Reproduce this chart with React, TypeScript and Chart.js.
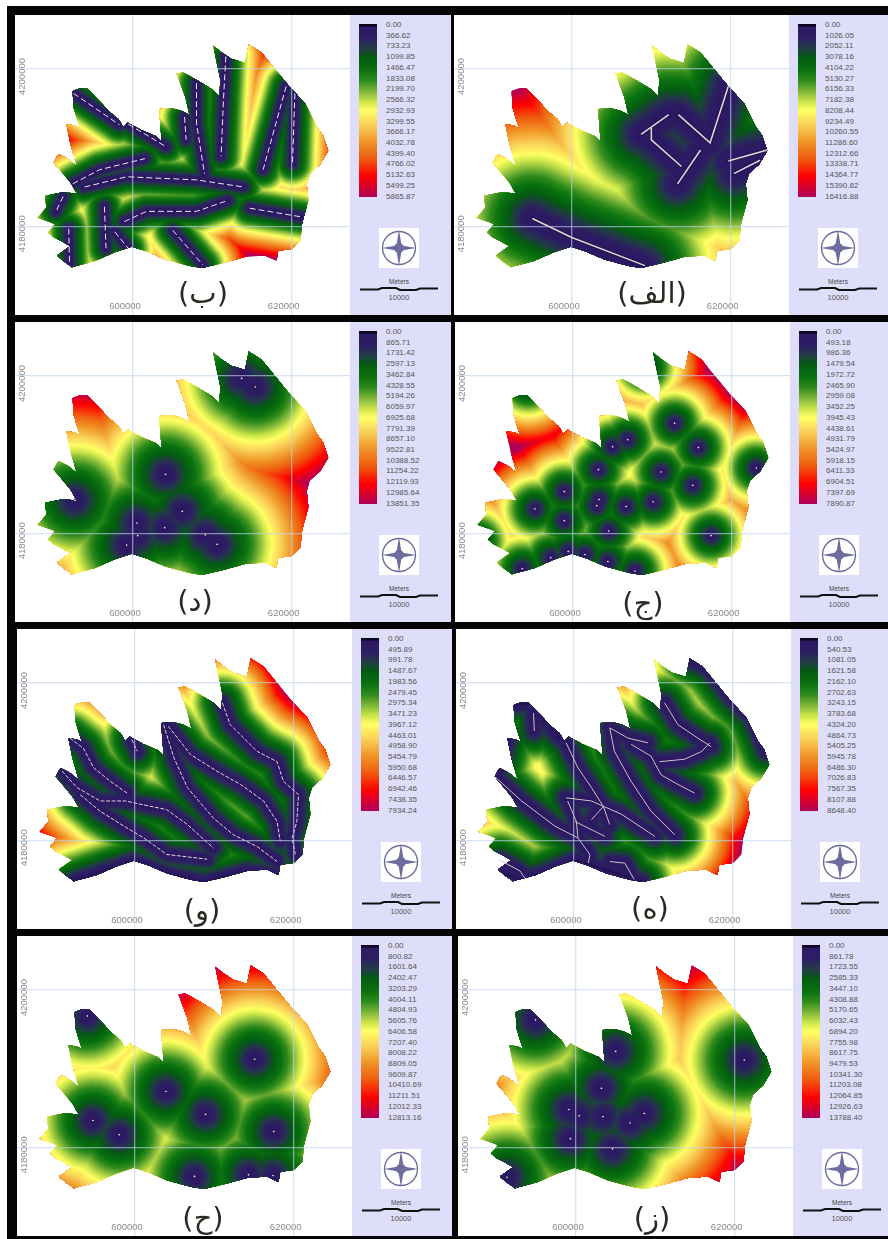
import React, { useEffect, useRef } from "react";
import { Chart, registerables } from "chart.js";

Chart.register(...registerables);

type P = [number, number];

// ---------- shared map data (kilometres, UTM easting / northing) ----------
const boundary: P[] = [
  [592.4,4197.2],[593.4,4197.6],[594.3,4197.5],[595.4,4196.3],[596.2,4195.5],[596.9,4194.7],[598.2,4193.6],[598.8,4192.6],[599.3,4193.2],
  [601.1,4192.2],[602.8,4191.5],[603.6,4190.8],[603.3,4194.9],[604.9,4195.0],[606.1,4194.7],[607.1,4194.2],[606.6,4196.4],
  [605.5,4199.4],[606.3,4199.6],[608.2,4198.5],[609.9,4197.5],[610.9,4196.5],[611.0,4198.7],[610.1,4203.0],[611.2,4202.1],
  [612.4,4201.3],[614.1,4200.8],[614.6,4203.1],[616.2,4202.1],[617.9,4200.0],[619.6,4197.9],[621.7,4195.6],[623.2,4192.6],
  [624.0,4191.5],[624.6,4189.6],[623.6,4187.9],[622.3,4186.7],[621.9,4185.4],[622.1,4183.3],[621.3,4180.3],[621.1,4178.2],
  [620.0,4177.1],[618.3,4176.9],[618.1,4175.6],[616.6,4176.3],[614.1,4176.1],[611.6,4175.4],[608.7,4174.7],[607.0,4175.0],
  [604.0,4175.8],[601.5,4176.9],[599.8,4177.4],[597.7,4176.7],[595.2,4175.6],[592.3,4174.8],[591.2,4175.6],[590.4,4176.3],
  [592.1,4177.5],[590.0,4178.6],[589.3,4179.2],[590.2,4180.3],[588.0,4181.1],[589.1,4182.4],[588.9,4183.9],[591.0,4184.3],
  [592.9,4184.2],[592.1,4185.6],[590.0,4188.1],[590.6,4189.2],[591.8,4188.6],[592.9,4187.7],[592.1,4190.5],[591.6,4193.0],
  [592.8,4192.8],[593.3,4192.5],[592.5,4195.1],
];

const xTicks = [600000, 620000];
const yTicks = [4180000, 4200000];

// ---------- legend labels ----------
const legendB = ["0.00","366.62","733.23","1099.85","1466.47","1833.08","2199.70","2566.32","2932.93","3299.55","3666.17","4032.78","4399.40","4766.02","5132.63","5499.25","5865.87"];
const legendAlef = ["0.00","1026.05","2052.11","3078.16","4104.22","5130.27","6156.33","7182.38","8208.44","9234.49","10260.55","11286.60","12312.66","13338.71","14364.77","15390.82","16416.88"];
const legendDal = ["0.00","865.71","1731.42","2597.13","3462.84","4328.55","5194.26","6059.97","6925.68","7791.39","8657.10","9522.81","10388.52","11254.22","12119.93","12985.64","13851.35"];
const legendJim = ["0.00","493.18","986.36","1479.54","1972.72","2465.90","2959.08","3452.25","3945.43","4438.61","4931.79","5424.97","5918.15","6411.33","6904.51","7397.69","7890.87"];
const legendVav = ["0.00","495.89","991.78","1487.67","1983.56","2479.45","2975.34","3471.23","3967.12","4463.01","4958.90","5454.79","5950.68","6446.57","6942.46","7438.35","7934.24"];
const legendHe = ["0.00","540.53","1081.05","1621.58","2162.10","2702.63","3243.15","3783.68","4324.20","4864.73","5405.25","5945.78","6486.30","7026.83","7567.35","8107.88","8648.40"];
const legendHa = ["0.00","800.82","1601.64","2402.47","3203.29","4004.11","4804.93","5605.76","6406.58","7207.40","8008.22","8809.05","9609.87","10410.69","11211.51","12012.33","12813.16"];
const legendZe = ["0.00","861.78","1723.55","2585.33","3447.10","4308.88","5170.65","6032.43","6894.20","7755.98","8617.75","9479.53","10341.30","11203.08","12064.85","12926.63","13788.40"];

// ---------- feature layers ----------
const linesB: P[][] = [
  [[592.5,4196.9],[598.3,4192.9]],
  [[599.4,4193.0],[604.2,4190.1]],
  [[592.4,4185.4],[595.8,4187.2],[601.5,4188.6]],
  [[593.9,4185.0],[599.2,4186.3],[608.0,4185.9],[613.9,4185.0]],
  [[608.0,4198.2],[608.0,4193.1],[609.0,4186.7]],
  [[606.5,4193.9],[606.7,4191.0]],
  [[611.7,4201.6],[611.4,4196.1],[611.1,4188.9]],
  [[619.3,4197.8],[616.4,4187.2]],
  [[620.4,4196.9],[620.1,4188.0]],
  [[591.2,4183.8],[590.3,4181.9]],
  [[598.9,4180.6],[601.7,4181.9],[608.0,4181.9],[612.0,4183.3]],
  [[614.7,4182.3],[621.2,4181.2]],
  [[596.4,4182.5],[596.6,4177.2]],
  [[591.9,4179.7],[592.0,4175.3]],
  [[597.7,4179.3],[599.4,4177.2]],
  [[605.0,4179.5],[608.8,4175.1]],
];
const linesAlef: P[][] = [
  [[595.0,4181.0],[599.9,4178.6],[609.2,4175.0]],
  [[608.7,4191.7],[612.2,4194.2]],
  [[610.0,4192.5],[610.0,4191.0],[613.8,4187.6]],
  [[613.4,4194.2],[617.4,4190.6],[619.7,4197.8]],
  [[613.3,4185.4],[616.2,4189.7]],
  [[619.7,4188.3],[624.6,4189.7]],
  [[620.4,4186.7],[623.7,4188.4]],
];
const pointsDal: P[] = [
  [613.7,4199.7],[615.4,4198.6],[604.1,4187.5],[592.7,4184.2],[606.2,4182.8],[600.5,4181.3],
  [600.6,4179.7],[599.2,4178.5],[604.0,4180.7],[609.1,4179.8],[610.6,4178.6],
];
const pointsJim: P[] = [
  [612.8,4194.0],[606.9,4191.9],[605.0,4191.0],[615.8,4190.9],[603.2,4188.1],[611.1,4187.8],[623.1,4188.3],[615.1,4186.1],
  [598.9,4185.3],[603.3,4184.3],[603.0,4183.5],[606.7,4183.4],[610.1,4184.0],[595.2,4183.1],[598.9,4181.6],[604.5,4180.3],
  [617.4,4179.7],[599.4,4177.7],[601.5,4177.3],[597.2,4176.9],[604.4,4176.4],[593.6,4175.5],[607.8,4175.2],
];
const edgeJim: P[][] = [
  [[594.3,4198.9],[594.4,4198.9]],
  [[609.0,4201.2],[609.1,4201.2]],
  [[587.8,4179.0],[587.9,4179.0]],
];
const linesVav: P[][] = [
  [[591.8,4193.0],[593.5,4191.7],[594.8,4189.2],[596.9,4187.5],[599.0,4186.0]],
  [[590.8,4188.8],[592.7,4186.7],[595.6,4185.0],[598.8,4185.0],[601.1,4184.5],[604.0,4183.9],[606.6,4182.0],[609.9,4179.0]],
  [[593.1,4185.8],[595.6,4183.7],[598.6,4181.8],[601.1,4180.3],[604.0,4178.2],[609.1,4177.6]],
  [[603.6,4194.7],[604.9,4190.5],[606.6,4186.7],[609.9,4182.8],[612.4,4180.7],[615.4,4179.2],[617.9,4177.3]],
  [[604.2,4194.5],[607.0,4190.9],[610.3,4188.8],[613.3,4187.1],[616.2,4185.0],[617.9,4182.4],[618.3,4179.9]],
  [[611.0,4197.5],[612.0,4194.7],[615.4,4191.3],[617.9,4190.0],[618.7,4187.5],[620.6,4185.8],[620.4,4182.4],[619.8,4180.3],[620.2,4178.2]],
  [[599.6,4192.8],[600.3,4191.3]],
];
const edgeVav: P[][] = [
  [[592.1,4174.8],[597.7,4176.7],[599.8,4177.4],[604.0,4175.8],[608.7,4174.7],[614.1,4176.1],[618.1,4175.6]],
];
const linesHe: P[][] = [
  [[594.9,4196.2],[595.0,4193.9]],
  [[590.0,4188.1],[593.4,4185.0],[597.6,4181.8],[600.5,4180.3],[602.0,4178.2],[601.8,4177.1]],
  [[599.0,4192.4],[600.5,4189.2],[602.2,4186.7],[603.7,4184.3],[604.5,4182.0]],
  [[599.0,4185.4],[602.2,4185.0],[606.0,4183.3],[610.2,4180.5]],
  [[603.7,4184.3],[602.2,4182.6]],
  [[599.2,4185.0],[600.3,4182.4],[600.5,4180.3]],
  [[604.5,4194.3],[605.1,4191.3],[607.2,4187.5],[609.7,4183.7],[612.7,4180.7]],
  [[604.5,4194.3],[606.8,4193.0],[609.3,4192.4]],
  [[607.2,4192.2],[609.7,4190.7],[611.0,4188.3],[613.1,4187.1],[615.2,4186.0]],
  [[610.8,4190.0],[613.9,4190.3],[616.1,4191.3],[617.1,4192.4]],
  [[611.4,4197.5],[613.1,4194.7],[615.6,4193.0],[617.3,4191.9]],
  [[600.1,4182.4],[603.9,4180.5]],
  [[590.6,4177.5],[593.2,4176.1],[593.8,4175.2]],
  [[604.5,4177.3],[606.4,4177.1],[607.6,4175.0]],
];
const edgeHe: P[][] = [
  [[614.6,4203.0],[616.9,4201.9],[619.8,4198.1],[622.4,4195.6],[624.2,4191.3]],
  [[592.5,4197.2],[594.6,4197.5],[598.2,4193.0]],
  [[591.7,4193.0],[590.6,4189.0]],
  [[590.6,4176.1],[592.9,4175.0],[596.3,4175.8],[600.1,4177.5],[608.5,4174.8]],
];
const pointsHa: P[] = [
  [594.0,4196.7],[615.1,4191.2],[603.9,4187.1],[594.7,4183.4],[608.9,4184.2],[598.0,4181.6],
  [617.5,4182.0],[607.5,4176.3],[614.3,4176.5],[617.4,4176.4],
];
const pointsZe: P[] = [
  [594.9,4196.2],[605.0,4192.2],[621.2,4191.1],[603.2,4187.5],[599.1,4184.8],[600.4,4184.0],
  [603.4,4183.9],[606.8,4183.1],[608.6,4184.3],[599.3,4181.1],[604.6,4179.8],[591.3,4176.2],
];

// ---------- colour ramp ----------
const rampStops: [number, number, number, number][] = [
  [0, 24, 12, 50], [0.02, 45, 25, 100], [0.08, 45, 30, 100], [0.14, 35, 60, 70], [0.19, 5, 90, 20], [0.27, 10, 115, 15],
  [0.33, 50, 140, 30], [0.4, 140, 190, 60], [0.45, 205, 230, 75], [0.5, 255, 255, 100], [0.58, 250, 210, 90], [0.68, 240, 150, 40],
  [0.78, 240, 90, 15], [0.88, 255, 0, 0], [1, 175, 0, 90],
];
function ramp(t: number): string {
  const v = Math.max(0, Math.min(1, t));
  for (let i = 1; i < rampStops.length; i++) {
    const a = rampStops[i - 1], b = rampStops[i];
    if (v <= b[0]) {
      const f = (v - a[0]) / (b[0] - a[0]);
      return `rgb(${a[1] + (b[1] - a[1]) * f},${a[2] + (b[2] - a[2]) * f},${a[3] + (b[3] - a[3]) * f})`;
    }
  }
  return "rgb(175,0,90)";
}
const rampCss = `linear-gradient(to bottom, #0c0620 0%, #0c0620 1%, ${rampStops.slice(1).map((s) => `rgb(${s[1]},${s[2]},${s[3]}) ${s[0] * 100}%`).join(",")})`;

// ---------- layout ----------
const PLOT_W = 335, PLOT_H = 300, LEFT = 118, TOP = 54;
const xPerPx = 20000 / 158.7, yPerPx = 20000 / 157.3;
const xMin = 600000 - LEFT * xPerPx, xMax = 600000 + (PLOT_W - LEFT) * xPerPx;
const yMax = 4200000 + TOP * yPerPx, yMin = 4200000 - (PLOT_H - TOP) * yPerPx;

interface Panel {
  caption: string; legend: string[]; lines?: P[][]; edge?: P[][]; points?: P[];
  gx: number; gy: number; right: number; cx: number; cy: number;
  lineColor?: string; lineWidth?: number; dash?: number[];
}
const panels: Panel[] = [
  { caption: "(ب)", legend: legendB, lines: linesB, gx: 133, gy: 69, right: 451, cx: 203, cy: 293, lineColor: "#efe8f5", lineWidth: 1, dash: [6, 3] },
  { caption: "(الف)", legend: legendAlef, lines: linesAlef, gx: 572, gy: 69, right: 888, cx: 652, cy: 293, lineColor: "#ddd8d8", lineWidth: 1.6 },
  { caption: "(د)", legend: legendDal, points: pointsDal, gx: 133, gy: 376, right: 451, cx: 195, cy: 601 },
  { caption: "(ج)", legend: legendJim, points: pointsJim, edge: edgeJim, gx: 573, gy: 376, right: 888, cx: 643, cy: 603 },
  { caption: "(و)", legend: legendVav, lines: linesVav, edge: edgeVav, gx: 135, gy: 683, right: 452, cx: 202, cy: 910, lineColor: "#e2d8e8", lineWidth: 1, dash: [4, 1.5] },
  { caption: "(ه)", legend: legendHe, lines: linesHe, edge: edgeHe, gx: 574, gy: 683, right: 888, cx: 650, cy: 908, lineColor: "#cfc8cc", lineWidth: 1 },
  { caption: "(ح)", legend: legendHa, points: pointsHa, gx: 135, gy: 990, right: 452, cx: 203, cy: 1218 },
  { caption: "(ز)", legend: legendZe, points: pointsZe, gx: 576, gy: 990, right: 888, cx: 652, cy: 1218 },
];

const toXY = (pts: P[]) => pts.map(([x, y]) => ({ x: x * 1000, y: y * 1000 }));

// Paints the distance field: nested buffers round the source features, clipped to the basin.
const distancePlugin = {
  id: "distanceField",
  beforeDatasetsDraw(chart: any) {
    const ctx: CanvasRenderingContext2D = chart.ctx;
    const sx = chart.scales.x, sy = chart.scales.y;
    const px = (p: { x: number; y: number }): P => [sx.getPixelForValue(p.x), sy.getPixelForValue(p.y)];
    const ds = chart.data.datasets as any[];
    const outline = ds.find((d) => d.role === "boundary").data.map(px) as P[];
    const lines = ds.filter((d) => d.role === "line" || d.role === "edge").map((d) => d.data.map(px) as P[]);
    const pts = ds.filter((d) => d.role === "points").flatMap((d) => d.data.map(px) as P[]);
    const maxMeters = ds.find((d) => d.role === "boundary").maxDistance as number;
    const maxPx = maxMeters / xPerPx;

    ctx.save();
    ctx.beginPath();
    outline.forEach(([x, y], i) => (i ? ctx.lineTo(x, y) : ctx.moveTo(x, y)));
    ctx.closePath();
    ctx.clip();
    ctx.fillStyle = ramp(1);
    ctx.fillRect(0, 0, chart.width, chart.height);
    ctx.lineCap = "round";
    ctx.lineJoin = "round";
    for (let r = maxPx; r > 0; r -= 0.7) {
      const c = ramp(r / maxPx);
      ctx.strokeStyle = c;
      ctx.fillStyle = c;
      ctx.lineWidth = 2 * r;
      ctx.beginPath();
      for (const l of lines) l.forEach(([x, y], i) => (i ? ctx.lineTo(x, y) : ctx.moveTo(x, y)));
      ctx.stroke();
      ctx.beginPath();
      for (const [x, y] of pts) {
        ctx.moveTo(x + r, y);
        ctx.arc(x, y, r, 0, Math.PI * 2);
      }
      ctx.fill();
    }
    ctx.restore();
  },
};

function Compass() {
  const c = "#6c6c9e";
  return (
    <svg width={40} height={40} viewBox="0 0 40 40" style={{ display: "block", background: "#fff" }}>
      <circle cx={20} cy={20} r={16.5} fill="none" stroke={c} strokeWidth={1.4} />
      <path d="M20 2 L22.6 17.4 L37 20 L22.6 22.6 L20 38 L17.4 22.6 L3 20 L17.4 17.4 Z" fill={c} />
      <circle cx={20} cy={20} r={5} fill={c} />
    </svg>
  );
}

const zeroPadding = (s: any) => {
  s.paddingLeft = 0; s.paddingRight = 0; s.paddingTop = 0; s.paddingBottom = 0;
};

function MapPanel({ p }: { p: Panel }) {
  const ref = useRef<HTMLCanvasElement>(null);
  useEffect(() => {
    const datasets: any[] = [
      { role: "boundary", maxDistance: parseFloat(p.legend[16]), data: toXY(boundary), showLine: false, pointRadius: 0 },
    ];
    (p.edge || []).forEach((l) => datasets.push({ role: "edge", data: toXY(l), showLine: false, pointRadius: 0 }));
    (p.lines || []).forEach((l) =>
      datasets.push({
        role: "line", data: toXY(l), showLine: true, pointRadius: 0, fill: false,
        borderColor: p.lineColor, borderWidth: p.lineWidth, borderDash: p.dash || [],
      })
    );
    if (p.points) {
      datasets.push({
        role: "points", data: toXY(p.points), showLine: false, pointRadius: 1.3,
        pointBackgroundColor: "#e8e0ea", pointBorderColor: "#15082e", pointBorderWidth: 0.8,
      });
    }
    const gridStyle = { color: "rgba(190,212,236,0.62)", lineWidth: 1.3, drawTicks: false, z: 1 };
    const tickFont = { family: "'Liberation Sans', Arial, sans-serif", size: 9.5 };
    const chart = new Chart(ref.current as HTMLCanvasElement, {
      type: "scatter",
      data: { datasets },
      plugins: [distancePlugin],
      options: {
        responsive: false,
        animation: false,
        events: [],
        layout: { padding: 0, autoPadding: false },
        plugins: { legend: { display: false }, tooltip: { enabled: false }, title: { display: false } },
        scales: {
          x: {
            type: "linear", min: xMin, max: xMax, position: "bottom",
            border: { display: false }, grid: gridStyle,
            afterBuildTicks: (s: any) => { s.ticks = xTicks.map((value) => ({ value })); },
            afterFit: (s: any) => { s.height = 0; zeroPadding(s); },
            ticks: {
              autoSkip: false, mirror: true, maxRotation: 0, minRotation: 0, padding: 3, labelOffset: -8,
              color: "#8a8a8a", font: tickFont, callback: (v: any) => String(v),
            },
          },
          y: {
            type: "linear", min: yMin, max: yMax, position: "left",
            border: { display: false }, grid: gridStyle,
            afterBuildTicks: (s: any) => { s.ticks = yTicks.map((value) => ({ value })); },
            afterFit: (s: any) => { s.width = 0; zeroPadding(s); },
            ticks: {
              autoSkip: false, mirror: true, minRotation: 90, maxRotation: 90, padding: 7, labelOffset: 26,
              color: "#8a8a8a", font: tickFont, callback: (v: any) => String(v),
            },
          },
        },
      } as any,
    });
    return () => chart.destroy();
  }, [p]);

  const left = p.gx - LEFT, top = p.gy - TOP;
  const rel = (x: number, y: number): React.CSSProperties => ({ position: "absolute", left: x + LEFT, top: y + TOP });
  const sans = "'Liberation Sans', Arial, sans-serif";
  return (
    <div style={{ position: "absolute", left, top, width: p.right - left, height: PLOT_H, background: "#dedefa", overflow: "visible" }}>
      <canvas ref={ref} width={PLOT_W} height={PLOT_H} style={{ position: "absolute", left: 0, top: 0, width: PLOT_W, height: PLOT_H, background: "#fff", filter: "blur(0.45px)" }} />
      <div style={{ ...rel(226, -45), width: 18, height: 173, background: rampCss }} />
      {p.legend.map((t, i) => (
        <div key={i} style={{ ...rel(253, -44 + i * 10.73 - 5), font: `8px ${sans}`, lineHeight: "10px", color: "#555", whiteSpace: "nowrap" }}>{t}</div>
      ))}
      <div style={rel(246, 159)}><Compass /></div>
      <div style={{ ...rel(246, 209), width: 40, textAlign: "center", font: `6.5px ${sans}`, color: "#444" }}>Meters</div>
      <svg width={78} height={5} style={{ ...rel(227, 218), display: "block" }}>
        <path d="M0 2.5 H18 L22 1 H36 L40 3 H56 L60 1.5 H78" stroke="#111" strokeWidth={2} fill="none" />
      </svg>
      <div style={{ ...rel(246, 224), width: 40, textAlign: "center", font: `7.5px ${sans}`, color: "#555" }}>10000</div>
      <div
        dir="rtl"
        style={{
          position: "absolute", left: p.cx - left - 60, top: p.cy - top - 22, width: 120, height: 44,
          textAlign: "center", font: `29px/44px 'DejaVu Sans', sans-serif`, color: "#2a2a22",
        }}
      >
        {p.caption}
      </div>
    </div>
  );
}

export default function App() {
  return (
    <div style={{ position: "absolute", left: 0, top: 0, width: 888, height: 1239, background: "#fff", overflow: "hidden" }}>
      <div style={{ position: "absolute", left: 7, top: 6, right: 0, bottom: 0, background: "#050505" }} />
      {panels.map((p) => <MapPanel key={p.caption} p={p} />)}
    </div>
  );
}
